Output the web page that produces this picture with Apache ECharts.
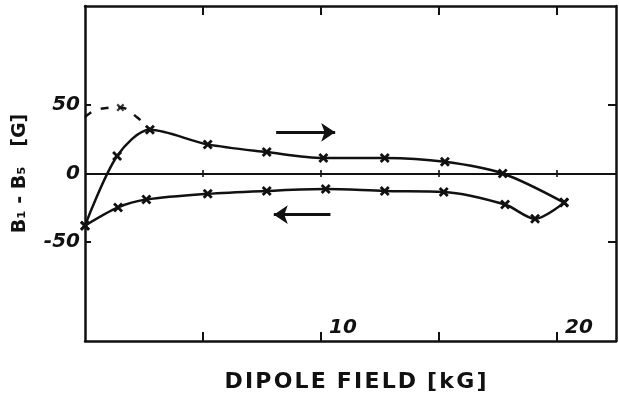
<!DOCTYPE html>
<html>
<head>
<meta charset="utf-8">
<script src="https://cdn.jsdelivr.net/npm/echarts@6/dist/echarts.min.js"></script>
<style>html,body{margin:0;padding:0;background:#fff}#c{width:619px;height:398px}</style>
</head>
<body>
<div id="c"></div>
<script>
// Data (dipole field in kG, B1 - B5 in G)
var upX = [0, 1.36, 2.75, 5.2, 7.7, 10.1, 12.7, 15.25, 17.7, 20.3];
var upY = [-38, 12.7, 31.8, 21.2, 15.6, 11.3, 11.3, 8.5, 0, -21.2];
var downX = [20.3, 19.07, 17.8, 15.2, 12.7, 10.2, 7.7, 5.2, 2.6, 1.4, 0];
var downY = [-21.2, -33, -22.6, -13.4, -12.7, -11.3, -12.7, -14.8, -19, -24.7, -38];
var dashX = [0, 0.5, 1.5, 2.2, 2.75];
var dashY = [41, 46.5, 48, 41, 31.8];
var dashMarked = [1.5];
var arrowUp = [[8.1, 30], [10.6, 30]];
var arrowDown = [[10.4, -30], [8.0, -30]];
var xTicks = [5, 10, 15, 20];
var xTickLabels = [10, 20];
var yTicks = [-50, 50];
var yTickLabels = [-50, 0, 50];

function pairs(xs, ys) { return xs.map(function (x, i) { return [x, ys[i]]; }); }
var cross = 'path://M0,2 L2,0 L5,3 L8,0 L10,2 L7,5 L10,8 L8,10 L5,7 L2,10 L0,8 L3,5 Z';
var ink = '#111';
var font = '"DejaVu Sans", sans-serif';
var h = '\u200A';

var chart = echarts.init(document.getElementById('c'), null, {renderer: 'canvas'});
chart.setOption({
  animation: false,
  backgroundColor: '#fff',
  grid: {left: 85, right: 3, top: 6, bottom: 47},
  xAxis: [{
    type: 'value', min: 0, max: 22.5, position: 'bottom',
    axisLine: {onZero: false, lineStyle: {color: ink, width: 2.5}},
    axisTick: {show: true, inside: true, length: 9, customValues: xTicks, lineStyle: {color: ink, width: 2}},
    axisLabel: {inside: true, customValues: xTickLabels, align: 'left', margin: 3, padding: [0, 0, 0, 8],
      color: ink, fontFamily: font, fontSize: 20, fontWeight: 'bold', fontStyle: 'italic'},
    splitLine: {show: false},
    name: ['D','I','P','O','L','E'].join(h) + '\u2002' + ['F','I','E','L','D'].join(h) + '\u2002' + ['[','k','G',']'].join(h),
    nameLocation: 'middle', nameGap: 30,
    nameTextStyle: {color: ink, fontFamily: font, fontSize: 22, fontWeight: 'bold', padding: [0, 0, 0, 10]}
  }, {
    type: 'value', min: 0, max: 22.5, position: 'top',
    axisLine: {onZero: false, lineStyle: {color: ink, width: 2.5}},
    axisTick: {show: true, inside: true, length: 9, customValues: xTicks, lineStyle: {color: ink, width: 2}},
    axisLabel: {show: false}, splitLine: {show: false}
  }],
  yAxis: [{
    type: 'value', min: -122, max: 122, position: 'left',
    axisLine: {onZero: false, lineStyle: {color: ink, width: 2.5}},
    axisTick: {show: true, inside: true, length: 6, customValues: yTicks, lineStyle: {color: ink, width: 2}},
    axisLabel: {customValues: yTickLabels, margin: 5, color: ink, fontFamily: font, fontSize: 20,
      fontWeight: 'bold', fontStyle: 'italic'},
    splitLine: {show: false},
    name: 'B\u2081 - B\u2085   [G]', nameLocation: 'middle', nameRotate: 90, nameGap: 55,
    nameTextStyle: {color: ink, fontFamily: font, fontSize: 19, fontWeight: 'bold'}
  }, {
    type: 'value', min: -122, max: 122, position: 'right',
    axisLine: {onZero: false, lineStyle: {color: ink, width: 2.5}},
    axisTick: {show: true, inside: true, length: 8, customValues: yTicks, lineStyle: {color: ink, width: 2}},
    axisLabel: {show: false}, splitLine: {show: false}
  }],
  series: [{
    type: 'scatter', name: 'zero', data: xTicks.map(function (x) { return [x, 0]; }),
    symbol: 'rect', symbolSize: [2, 7], itemStyle: {color: ink},
    markLine: {silent: true, symbol: 'none', label: {show: false},
      lineStyle: {color: ink, width: 2, type: 'solid'}, data: [{yAxis: 0}]}
  }, {
    type: 'line', name: 'up', data: pairs(upX, upY), smooth: 0.3,
    symbol: cross, symbolSize: 10, showSymbol: true,
    lineStyle: {color: ink, width: 2.5}, itemStyle: {color: ink}
  }, {
    type: 'line', name: 'down', data: pairs(downX, downY), smooth: 0.3,
    symbol: cross, symbolSize: 10, showSymbol: true,
    lineStyle: {color: ink, width: 2.5}, itemStyle: {color: ink}
  }, {
    type: 'line', name: 'dash', data: pairs(dashX, dashY), smooth: 0.4,
    symbol: 'none', lineStyle: {color: ink, width: 2.5, type: [8, 10]}
  }, {
    type: 'scatter', name: 'dashpt', data: dashMarked.map(function (x) { return [x, dashY[dashX.indexOf(x)]]; }),
    symbol: cross, symbolSize: 8, itemStyle: {color: ink}
  }, {
    type: 'lines', coordinateSystem: 'cartesian2d', polyline: false,
    symbol: ['none', 'arrow'], symbolSize: 14,
    lineStyle: {color: ink, width: 3, opacity: 1},
    data: [{coords: arrowUp}, {coords: arrowDown}]
  }]
});
</script>
</body>
</html>
